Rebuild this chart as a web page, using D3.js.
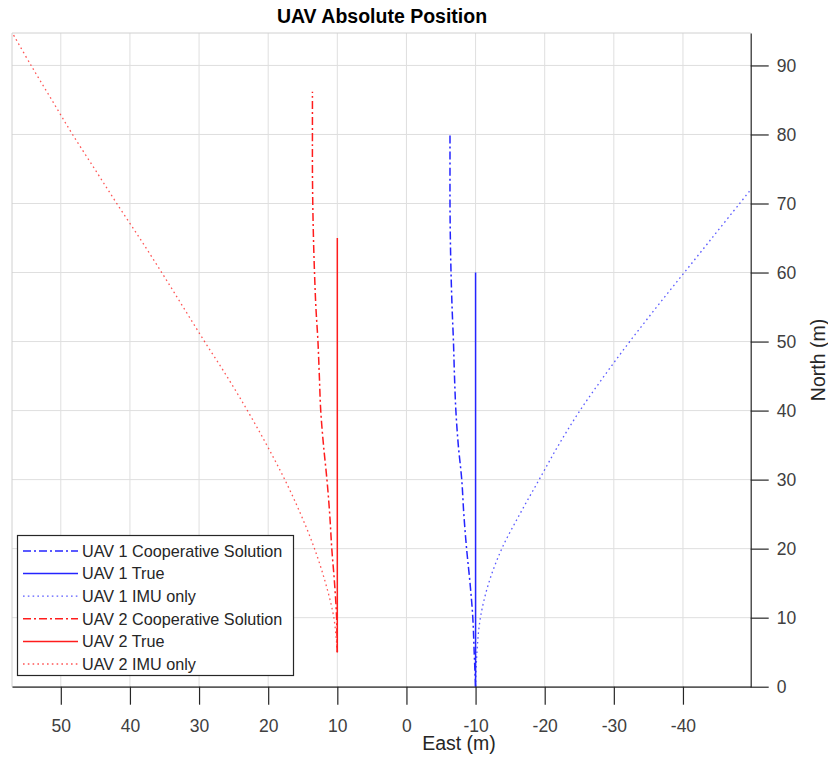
<!DOCTYPE html>
<html>
<head>
<meta charset="utf-8">
<script src="https://cdn.jsdelivr.net/npm/d3@7"></script>
<style>
  body { margin: 0; background: #fff; }
  text { font-family: 'Liberation Sans', Arial, sans-serif; }
</style>
</head>
<body>
<svg id="chart" width="828" height="757"></svg>
<script>
// [east, north] pairs
var uav1Coop = [[-10, 0], [-9.8, 5], [-9.6, 10], [-9.2, 15], [-8.7, 20], [-8.3, 25], [-8, 30], [-7.5, 35], [-7.15, 40], [-6.95, 45], [-6.8, 50], [-6.6, 55], [-6.45, 60], [-6.35, 65], [-6.3, 70], [-6.3, 75], [-6.3, 80.3]]
var uav1True = [[-10, 0], [-10, 60]]
var uav1Imu = [[-10, 0], [-10.2, 5], [-10.7, 10], [-11.9, 15], [-13.8, 20], [-16.4, 25], [-19.2, 30], [-22, 35], [-25.1, 40], [-28.6, 45], [-32.3, 50], [-36.2, 55], [-40.2, 60], [-44.2, 65], [-48.2, 70], [-49.8, 72]]
var uav2Coop = [[10, 5], [10.1, 10], [10.4, 15], [10.8, 20], [11.1, 25], [11.5, 30], [12, 35], [12.4, 40], [12.6, 45], [12.8, 50], [13.1, 55], [13.3, 60], [13.45, 65], [13.55, 70], [13.6, 75], [13.6, 80], [13.6, 86.2]]
var uav2True = [[10, 5], [10, 65]]
var uav2Imu = [[10, 5], [10.5, 10], [11.7, 15], [13.3, 20], [15.3, 25], [17.6, 30], [20.2, 35], [23, 40], [26, 45], [29.2, 50], [32.3, 55], [35.4, 60], [38.6, 65], [41.9, 70], [45.1, 75], [48.3, 80], [51.3, 85], [54.3, 90], [57, 94.7]]

var seriesNames = ['UAV 1 Cooperative Solution', 'UAV 1 True', 'UAV 1 IMU only',
  'UAV 2 Cooperative Solution', 'UAV 2 True', 'UAV 2 IMU only']
var eastTicks = [50, 40, 30, 20, 10, 0, -10, -20, -30, -40]
var northTicks = [0, 10, 20, 30, 40, 50, 60, 70, 80, 90]
var eastRange = [57.06, -49.8]
var northRange = [0, 94.7]

var blue = '#2424ff'
var red = '#ff1c1c'
var dashDot = '8,3,2,3'
var dotted = '1.6,3.2'

var series = [
  { name: seriesNames[0], pts: uav1Coop, color: blue, dash: dashDot, w: 1.5 },
  { name: seriesNames[1], pts: uav1True, color: blue, dash: null, w: 1.5 },
  { name: seriesNames[2], pts: uav1Imu, color: blue, dash: dotted, w: 1.3 },
  { name: seriesNames[3], pts: uav2Coop, color: red, dash: dashDot, w: 1.5 },
  { name: seriesNames[4], pts: uav2True, color: red, dash: null, w: 1.5 },
  { name: seriesNames[5], pts: uav2Imu, color: red, dash: dotted, w: 1.3 }
]

// plot box in pixels (window.top is taken, so no plain "top")
var boxL = 12
var boxR = 750.7
var boxT = 33
var boxB = 686.7

var svg = d3.select('#chart')

// east runs right to left
var x = d3.scaleLinear().domain(eastRange).range([boxL, boxR])
var y = d3.scaleLinear().domain(northRange).range([boxB, boxT])

// grid
svg.append('g').selectAll('line')
  .data(eastTicks)
  .enter().append('line')
  .attr('x1', function (d) { return x(d) }).attr('x2', function (d) { return x(d) })
  .attr('y1', boxT).attr('y2', boxB)
  .attr('stroke', '#dfdfdf').attr('stroke-width', 1)

svg.append('g').selectAll('line')
  .data(northTicks)
  .enter().append('line')
  .attr('y1', function (d) { return y(d) }).attr('y2', function (d) { return y(d) })
  .attr('x1', boxL).attr('x2', boxR)
  .attr('stroke', '#dfdfdf').attr('stroke-width', 1)

// light frame on top and left
svg.append('path')
  .attr('d', 'M' + boxL + ',' + boxB + 'V' + boxT + 'H' + boxR)
  .attr('fill', 'none').attr('stroke', '#d0d0d0').attr('stroke-width', 1)

svg.append('clipPath').attr('id', 'clip')
  .append('rect').attr('x', boxL).attr('y', boxT - 1)
  .attr('width', boxR - boxL).attr('height', boxB - boxT + 1)

var line = d3.line()
  .x(function (d) { return x(d[0]) })
  .y(function (d) { return y(d[1]) })
  .curve(d3.curveCatmullRom)

svg.append('g').attr('clip-path', 'url(#clip)')
  .selectAll('path')
  .data(series)
  .enter().append('path')
  .attr('d', function (d) { return line(d.pts) })
  .attr('fill', 'none')
  .attr('stroke', function (d) { return d.color })
  .attr('stroke-width', function (d) { return d.w })
  .attr('stroke-dasharray', function (d) { return d.dash })
  .attr('opacity', function (d) { return d.dash === dotted ? 0.75 : 1 })

// axes, plain hyphen for negatives like the original
var fmt = function (d) { return String(d) }
var xAxis = svg.append('g')
  .attr('transform', 'translate(0,' + boxB + ')')
  .call(d3.axisBottom(x).tickValues(eastTicks).tickFormat(fmt).tickSize(18).tickSizeOuter(0).tickPadding(15))
var yAxis = svg.append('g')
  .attr('transform', 'translate(' + boxR + ',0)')
  .call(d3.axisRight(y).tickValues(northTicks).tickFormat(fmt).tickSize(18).tickSizeOuter(0).tickPadding(8))

;[xAxis, yAxis].forEach(function (ax) {
  ax.select('.domain').attr('stroke', '#262626').attr('stroke-width', 1.2)
  ax.selectAll('.tick line').attr('stroke', '#262626').attr('stroke-width', 1.2)
  ax.selectAll('.tick text')
    .attr('fill', '#404040')
    .style('font-size', '17.5px')
    .style('font-family', "'Liberation Sans', Arial, sans-serif")
})

// titles
svg.append('text')
  .attr('x', 382).attr('y', 22.5)
  .attr('text-anchor', 'middle')
  .style('font-size', '19.5px').style('font-weight', 'bold')
  .attr('fill', '#000')
  .text('UAV Absolute Position')

svg.append('text')
  .attr('x', 459).attr('y', 749.5)
  .attr('text-anchor', 'middle')
  .style('font-size', '19.5px')
  .attr('fill', '#262626')
  .text('East (m)')

svg.append('text')
  .attr('transform', 'translate(825,360) rotate(-90)')
  .attr('text-anchor', 'middle')
  .style('font-size', '19.5px')
  .attr('fill', '#262626')
  .text('North (m)')

// legend box
var lg = svg.append('g')
lg.append('rect')
  .attr('x', 17.5).attr('y', 535.5)
  .attr('width', 276).attr('height', 140)
  .attr('fill', '#fff').attr('stroke', '#262626').attr('stroke-width', 1.2)

var rows = lg.selectAll('g.row')
  .data(series)
  .enter().append('g')
  .attr('transform', function (d, i) { return 'translate(0,' + (551 + i * 22.6) + ')' })

rows.append('line')
  .attr('x1', 23).attr('x2', 78)
  .attr('stroke', function (d) { return d.color })
  .attr('stroke-width', function (d) { return d.w })
  .attr('stroke-dasharray', function (d) { return d.dash })
  .attr('opacity', function (d) { return d.dash === dotted ? 0.75 : 1 })

rows.append('text')
  .attr('x', 82).attr('y', 5.8)
  .style('font-size', '16.2px')
  .attr('fill', '#262626')
  .text(function (d) { return d.name })
</script>
</body>
</html>
